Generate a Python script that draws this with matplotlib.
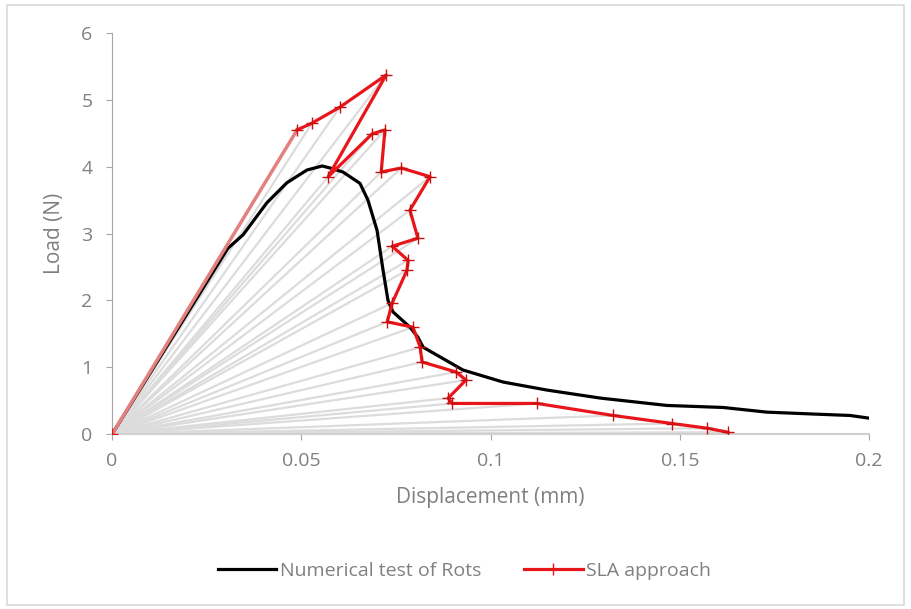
import matplotlib.pyplot as plt
from matplotlib.patches import Rectangle

# SLA approach (saw-tooth points)
slaX = [0.0, 0.0489, 0.0528, 0.0602, 0.0724, 0.0571, 0.0687, 0.0721, 0.0711, 0.0764,
        0.0840, 0.0787, 0.0808, 0.0740, 0.0782, 0.0779, 0.0740, 0.0727, 0.0795, 0.0814,
        0.0819, 0.0909, 0.0935, 0.0888, 0.0898, 0.1123, 0.1324, 0.1480, 0.1572, 0.1627]
slaY = [0.0, 4.55, 4.65, 4.89, 5.37, 3.85, 4.49, 4.55, 3.92, 3.98,
        3.85, 3.35, 2.93, 2.81, 2.60, 2.45, 1.96, 1.68, 1.60, 1.30,
        1.08, 0.93, 0.81, 0.54, 0.46, 0.46, 0.28, 0.16, 0.09, 0.03]

# Numerical test of Rots
numX = [0.0, 0.0306, 0.0346, 0.0409, 0.0462, 0.0515, 0.0555, 0.0576, 0.0610, 0.0655,
        0.0676, 0.0700, 0.0716, 0.0729, 0.0742, 0.0787, 0.0808, 0.0822, 0.0927, 0.1033,
        0.1149, 0.1290, 0.1466, 0.1614, 0.1730, 0.1860, 0.1950, 0.2000]
numY = [0.0, 2.78, 2.98, 3.46, 3.76, 3.95, 4.01, 3.98, 3.92, 3.75,
        3.50, 3.05, 2.45, 2.00, 1.83, 1.60, 1.45, 1.30, 0.96, 0.78,
        0.66, 0.54, 0.43, 0.40, 0.33, 0.30, 0.28, 0.24]

xTicks = [0, 0.05, 0.1, 0.15, 0.2]
xTickLabels = ['0', '0.05', '0.1', '0.15', '0.2']
yTicks = [0, 1, 2, 3, 4, 5, 6]

textColor = '#808080'
plt.rcParams['font.family'] = ['Open Sans', 'DejaVu Sans']

fig = plt.figure(figsize=(9.11, 6.09), dpi=100)
ax = fig.add_axes([0.123, 0.287, 0.831, 0.659])

# secant lines from the origin to every SLA point
i = 1
while i < len(slaX):
    ax.plot([0, slaX[i]], [0, slaY[i]], color='#dcdcdc', lw=1.6, zorder=1)
    i = i + 1

ax.plot(numX, numY, color='black', lw=2.3, zorder=3, label='Numerical test of Rots')
ax.plot(slaX[:2], slaY[:2], color='#e38080', lw=2.5, zorder=3.5)
ax.plot(slaX[1:], slaY[1:], color='#e8161b', lw=2.3, marker='+', ms=9, mew=1.0,
        mec='#c81010', zorder=4)
ax.plot(slaX[:1], slaY[:1], ls='none', marker='+', ms=9, mew=1.0, color='#e8161b', zorder=4)
ax.plot([], [], color='#e8161b', lw=2.3, marker='+', ms=9, mew=1.0, label='SLA approach')

ax.set_xlim(0, 0.2)
ax.set_ylim(0, 6)
ax.set_xticks(xTicks)
ax.set_xticklabels(xTickLabels)
ax.set_yticks(yTicks)

for s in ['top', 'right']:
    ax.spines[s].set_visible(False)
ax.spines['left'].set_color('#a6a6a6')
ax.spines['bottom'].set_color('#d0d0d0')
ax.spines['bottom'].set_linewidth(1.5)
ax.tick_params(axis='both', colors='#a6a6a6', labelcolor=textColor, labelsize=14,
               length=4, direction='out')
ax.tick_params(axis='y', pad=10)
ax.tick_params(axis='x', pad=9)

ax.set_xlabel('Displacement (mm)', fontsize=15, color=textColor, labelpad=12)
ax.set_ylabel('Load (N)', fontsize=15, color=textColor, labelpad=12)

leg = fig.legend(loc='center', bbox_to_anchor=(0.51, 0.063), ncol=2, frameon=False,
                 fontsize=14, handlelength=3, handletextpad=0.2, columnspacing=2.2)
for t in leg.get_texts():
    t.set_color(textColor)

fig.patches.append(Rectangle((0.008, 0.006), 0.984, 0.986, transform=fig.transFigure,
                             fill=False, edgecolor='#d9d9d9', lw=1.2))

fig.savefig('out.png', dpi=100)
